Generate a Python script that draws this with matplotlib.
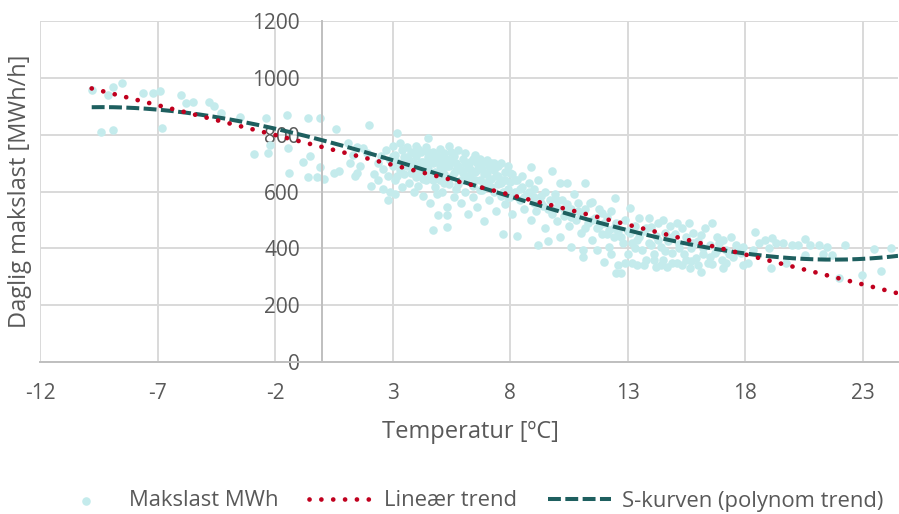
import numpy as np
import matplotlib
matplotlib.use('Agg')
import matplotlib.pyplot as plt


# daily max load [MWh/h] against temperature [ºC]
temp = [
    -9.8, -9.4, -9.1, -8.9, -8.9, -8.5, -7.6, -7.2, -6.9, -6.8, -6.0, -5.8, -5.5,
    -4.8, -4.6, -4.3, -3.5, -2.9, -2.4, -2.3, -2.2, -1.5, -1.45, -1.4, -0.8, -0.6,
    -0.5, -0.6, -0.2, -0.1, -0.1, 0.1, 0.6, 0.5, 0.7,
    1.1, 1.5, 1.75, 1.3, 1.9, 1.5, 1.4, 2.0, 3.2, 2.1, 2.8, 4.5, 4.7, 5.3, 4.93, 5.3,
    2.4, 2.5, 2.6, 2.7, 2.8, 2.9, 3.0, 3.0, 3.1, 3.1, 3.2, 3.3, 3.3, 3.4, 3.4, 3.5,
    3.5, 3.6, 3.6, 3.7, 3.7,
    3.8, 3.8, 3.9, 3.9, 4.0, 4.0, 4.0, 4.1, 4.1, 4.2, 4.2, 4.3, 4.3, 4.4, 4.4, 4.5,
    4.5, 4.6, 4.6, 4.7, 4.7, 4.8, 4.8, 4.9, 4.9, 5.0, 5.0, 5.0,
    5.1, 5.1, 5.2, 5.2, 5.3, 5.3, 5.4, 5.4, 5.5, 5.5, 5.6, 5.6, 5.7, 5.7, 5.8, 5.8,
    5.9, 5.9, 6.0, 6.0, 6.1, 6.1, 6.2, 6.2, 6.3, 6.3, 6.4, 6.4, 6.5, 6.5,
    6.6, 6.6, 6.7, 6.7, 6.8, 6.8, 6.9, 6.9, 7.0, 7.0, 7.1, 7.1, 7.2, 7.2, 7.3, 7.3,
    7.4, 7.4, 7.5, 7.5, 7.6, 7.6, 7.7, 7.7, 7.8, 7.8, 7.9, 7.9, 8.0, 8.0,
    8.1, 8.1, 8.2, 8.3, 8.3, 8.4, 8.5, 8.5, 8.6, 8.7, 8.8, 8.9, 8.9, 9.0, 9.0, 9.1,
    9.2, 9.2, 9.3, 9.4, 9.5, 9.5, 9.6, 9.7, 9.8, 9.8, 9.9, 10.0, 10.0,
    10.1, 10.1, 10.2, 10.3, 10.4, 10.4, 10.5, 10.6, 10.6, 10.7, 10.8, 10.9, 11.0,
    11.0, 11.1, 11.1, 11.2, 11.2, 11.3, 11.4, 11.5, 11.5, 11.6, 11.7, 11.7, 11.8,
    11.9, 11.9, 12.0, 12.0, 12.1, 12.2, 12.2, 12.3, 12.4, 12.46, 12.5, 12.5, 12.6,
    12.6, 12.7,
    12.8, 12.9, 13.0, 13.1, 13.1, 13.2, 13.3, 13.4, 13.4, 13.5, 13.6, 13.7, 13.8,
    13.9, 13.9, 14.0, 14.1, 14.2, 14.2, 14.3, 14.4, 14.5, 14.5, 14.6, 14.66, 14.7,
    14.8, 14.9, 15.0,
    15.1, 15.1, 15.2, 15.3, 15.4, 15.5, 15.6, 15.65, 15.7, 15.8, 15.9, 16.0, 16.1,
    16.1, 16.2, 16.3, 16.4, 16.5, 16.6, 16.7, 16.8, 16.9, 17.0, 17.06, 17.06, 17.2,
    17.4, 17.5, 17.6, 17.8, 17.9, 17.9,
    18.1, 18.34, 18.4, 18.6, 18.84, 19.0, 19.12, 19.1, 19.33, 19.62, 19.75, 19.97,
    20.25, 20.54, 20.54, 20.75, 21.15, 21.3, 21.5, 21.7, 22.0, 22.24, 22.95, 23.5,
    23.76, 24.2,
    3.0, 3.2, 3.4, 3.6, 3.8, 3.9, 4.0, 4.1, 4.2, 4.3, 4.4, 4.5, 4.6, 4.7, 4.8, 4.9,
    5.0, 5.1, 5.2, 5.3, 5.4, 5.5, 5.6, 5.7, 5.8, 5.9, 6.0, 6.1, 6.2, 6.3, 6.4, 6.5,
    6.6, 6.7, 6.8, 6.9, 7.0, 7.1, 7.2, 7.3, 7.4, 7.5, 7.6, 7.7, 7.8, 7.9, 8.0, 8.2,
    8.4, 8.6, 8.8, 9.0, 9.3, 9.6,
    10.0, 10.3, 10.6, 10.9, 11.2, 11.5, 11.8, 12.1, 12.4, 12.7, 13.0, 13.2, 13.5,
    13.8, 14.0, 14.3, 14.6, 14.9, 15.2, 15.5, 15.8, 16.2, 16.5, 16.8, 17.3, 17.7,
    1.2, 1.6, 2.2, 2.4, 2.6, 2.9, 3.1,
    12.3, 12.9, 13.3, 13.7, 14.1, 14.4, 14.9, 15.3, 15.7, 16.0, 16.6, 17.2,
]
load = [
    957, 809, 940, 968, 816, 982, 946, 946, 954, 823, 940, 911, 915,
    915, 901, 876, 862, 732, 858, 735, 764, 869, 753, 665, 704, 858,
    725, 651, 651, 858, 686, 644, 820, 665, 672,
    770, 757, 752, 728, 735, 665, 655, 834, 806, 620, 570, 787, 464, 517, 517, 476,
    700, 725, 680, 745, 655, 710, 760, 690, 730, 640, 705, 770, 675, 745, 615, 720,
    660, 690, 755, 630, 710,
    740, 665, 600, 700, 760, 725, 650, 690, 620, 740, 670, 705, 585, 755, 640, 720,
    680, 655, 560, 740, 700, 615, 670, 725, 590, 750, 690, 640,
    710, 600, 735, 660, 545, 690, 625, 760, 705, 650, 580, 725, 675, 610, 745, 690,
    640, 560, 715, 665, 600, 735, 685, 520, 650, 705, 620, 580, 730, 670,
    700, 545, 640, 715, 605, 680, 660, 495, 710, 620, 690, 570, 645, 700, 600, 675,
    530, 690, 625, 655, 585, 700, 450, 640, 670, 555, 610, 690, 635, 580,
    660, 520, 600, 445, 640, 570, 615, 655, 540, 590, 630, 687, 500, 560, 610, 530,
    412, 640, 585, 550, 600, 470, 426, 570, 673, 520, 590, 545, 495,
    629, 441, 570, 515, 629, 555, 480, 406, 540, 590, 500, 560, 455,
    520, 371, 394, 629, 540, 490, 560, 564, 430, 505, 394, 470, 540,
    523, 450, 353, 490, 510, 406, 465, 530, 440, 576, 312, 490, 341,
    460, 312,
    420, 500, 380, 541, 455, 350, 480, 341, 430, 505, 395, 460, 360,
    505, 420, 475, 380, 335, 445, 490, 405, 500, 360, 455, 335, 425,
    480, 385, 450,
    488, 350, 415, 470, 380, 440, 488, 330, 400, 455, 365, 425, 447,
    318, 380, 470, 350, 410, 488, 385, 440, 418, 360, 429, 330, 395,
    440, 370, 410, 385, 341, 404,
    347, 394, 459, 420, 429, 400, 435, 330, 418, 418, 347, 412,
    412, 432, 376, 412, 412, 379, 405, 376, 294, 412, 306, 397,
    321, 400,
    725, 655, 690, 720, 700, 735, 680, 750, 705, 645, 690, 740, 705, 640, 720, 660,
    710, 675, 630, 715, 690, 740, 665, 700, 625, 675, 640, 700, 655, 680, 715, 640,
    675, 605, 700, 630, 665, 640, 615, 700, 655, 690, 630, 600, 640, 580, 665, 640,
    610, 580, 600, 580, 560, 540,
    570, 540, 510, 530, 470, 500, 480, 450, 470, 440, 460, 420, 440,
    470, 410, 430, 390, 440, 400, 360, 420, 400, 370, 395, 380, 390,
    700, 690, 660, 640, 610, 600, 590,
    380, 350, 400, 340, 360, 340, 350, 340, 355, 340, 345, 350,
]

x_ticks = [-12, -7, -2, 3, 8, 13, 18, 23]
y_ticks = [0, 200, 400, 600, 800, 1000, 1200]

TEXT = '#595959'
GRID = '#D9D9D9'

plt.rcParams['font.family'] = ['Open Sans', 'DejaVu Sans']
plt.rcParams['axes.unicode_minus'] = False

x = np.array(temp)
y = np.array(load)

fig = plt.figure(figsize=(8.99, 5.14), dpi=100)
ax = fig.add_axes([40 / 899, 152 / 514, 858 / 899, 341 / 514])

ax.scatter(x, y, s=38, color='#C4EBEC', linewidths=0, zorder=2, label='Makslast MWh')

# Excel-style trend lines fitted to the points
xs = np.linspace(x.min(), 24.5, 300)
lin = np.polyfit(x, y, 1)
cub = np.polyfit(x, y, 3)
ax.plot(xs, np.polyval(lin, xs), color='#C0001E', lw=3.4, linestyle=(0, (0.01, 2.5)),
        dash_capstyle='round', zorder=4, label='Lineær trend')
ax.plot(xs, np.polyval(cub, xs), color='#1E5F5F', lw=2.9, linestyle=(0, (3.2, 1.1)),
        zorder=3, label='S-kurven (polynom trend)')

ax.set_xlim(-12, 24.5)
ax.set_ylim(0, 1200)
ax.set_xticks(x_ticks)
ax.set_yticks(y_ticks)
ax.grid(True, color=GRID, lw=1.4, zorder=0)
ax.set_axisbelow(True)

for side in ['top', 'right']:
    ax.spines[side].set_visible(False)
ax.spines['left'].set_position(('data', 0))
ax.spines['left'].set_color('#BFBFBF')
ax.spines['left'].set_linewidth(1.4)
ax.spines['bottom'].set_color('#BFBFBF')
ax.spines['bottom'].set_linewidth(1.4)

ax.tick_params(axis='x', length=0, pad=15, labelsize=15, labelcolor=TEXT)
ax.tick_params(axis='y', length=0, pad=16, labelsize=15, labelcolor=TEXT)

fig.text(470 / 899, 1 - 432 / 514, 'Temperatur [ºC]', ha='center', va='center',
         fontsize=17, color=TEXT)
fig.text(20 / 899, 1 - 191 / 514, 'Daglig makslast [MWh/h]', ha='center', va='center',
         rotation=90, fontsize=17, color=TEXT)

fig.legend(loc='center', bbox_to_anchor=(469 / 899, 1 - 501 / 514), ncol=3,
           frameon=False, fontsize=15.8, labelcolor=TEXT, handlelength=2.9,
           columnspacing=1.4, handletextpad=0.5)

fig.savefig('out.png', dpi=100)
